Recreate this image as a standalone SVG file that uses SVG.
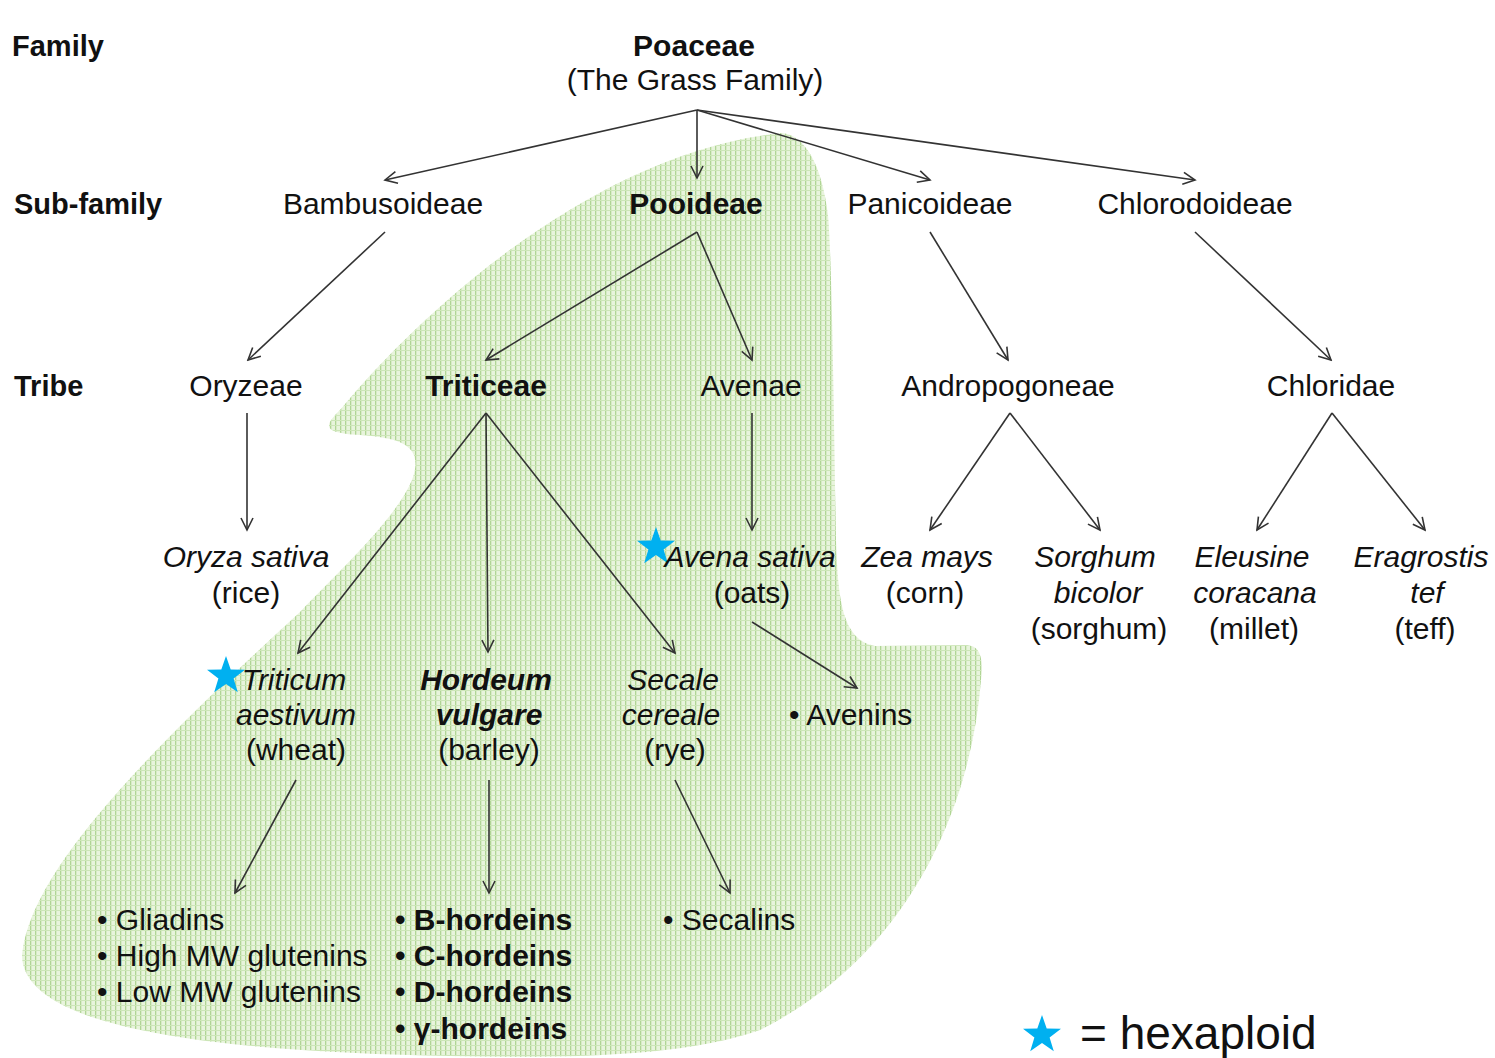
<svg xmlns="http://www.w3.org/2000/svg" width="1495" height="1058" viewBox="0 0 1495 1058">
<style>
text{font-family:"Liberation Sans",Arial,sans-serif;font-size:30px;fill:#111;}
.c{text-anchor:middle;}
.b{font-weight:bold;}
.i{font-style:italic;}
.conn line{stroke:#333333;stroke-width:1.6;fill:none;marker-end:url(#ah);}
.star{fill:#00b0f0;}
</style>
<defs>
<marker id="ah" viewBox="-14 -8 16 16" markerWidth="16" markerHeight="16" refX="0" refY="0" orient="auto" markerUnits="userSpaceOnUse">
<path d="M-12,-6 L0,0 L-12,6" fill="none" stroke="#333333" stroke-width="1.6"/>
</marker>
<pattern id="grid" width="5" height="5" patternUnits="userSpaceOnUse">
<rect width="5" height="5" fill="#e8f4dc"/>
<rect x="0" y="0" width="1.3" height="5" fill="#b0d595"/>
<rect x="0" y="0" width="5" height="1" fill="#cde6b8"/>
</pattern>
<polygon id="star" points="0,-20 4.7,-6.5 19,-6.2 7.6,2.5 11.8,16.2 0,8 -11.8,16.2 -7.6,2.5 -19,-6.2 -4.7,-6.5"/>
</defs>
<rect width="1495" height="1058" fill="#ffffff"/>
<g id="pooideae-region">
<path fill="url(#grid)" d="M782,133 C805,135 822,165 828,215 C832,260 834,420 836,540 C838,600 842,640 875,646 L965,645 C982,645 983,660 981,680 C970,820 900,960 760,1030 C680,1058 560,1058 450,1056 C250,1052 22,1035 22,955 C30,870 150,750 300,612 C340,570 395,520 412,480 C425,445 400,438 360,435 C320,433 325,425 340,410 C440,290 610,150 782,133 Z"/>
</g>
<g id="row-labels">
<text class="b" x="12" y="56" style="font-size:29px">Family</text>
<text class="b" x="14" y="214" style="font-size:29px">Sub-family</text>
<text class="b" x="14" y="396" style="font-size:29px">Tribe</text>
</g>
<g class="conn" id="connectors">
<line x1="697" y1="110" x2="385" y2="180"/>
<line x1="697" y1="110" x2="697" y2="178"/>
<line x1="697" y1="110" x2="930" y2="180"/>
<line x1="697" y1="110" x2="1195" y2="180"/>
<line x1="385" y1="232" x2="248" y2="360"/>
<line x1="697" y1="232" x2="486" y2="360"/>
<line x1="697" y1="232" x2="752" y2="360"/>
<line x1="930" y1="232" x2="1008" y2="360"/>
<line x1="1195" y1="232" x2="1331" y2="360"/>
<line x1="247" y1="413" x2="247" y2="530"/>
<line x1="486" y1="413" x2="298" y2="653"/>
<line x1="486" y1="413" x2="488" y2="652"/>
<line x1="486" y1="413" x2="675" y2="653"/>
<line x1="752" y1="413" x2="752" y2="530"/>
<line x1="1010" y1="413" x2="930" y2="530"/>
<line x1="1010" y1="413" x2="1100" y2="530"/>
<line x1="1332" y1="413" x2="1257" y2="530"/>
<line x1="1332" y1="413" x2="1425" y2="530"/>
<line x1="752" y1="622" x2="857" y2="688"/>
<line x1="296" y1="780" x2="235" y2="893"/>
<line x1="489" y1="780" x2="489" y2="893"/>
<line x1="675" y1="780" x2="730" y2="893"/>
</g>
<g id="poaceae"><text class="c b" x="694" y="56">Poaceae</text><text class="c" x="695" y="90">(The Grass Family)</text></g>
<g id="bambusoideae"><text class="c" x="383" y="214">Bambusoideae</text></g>
<g id="pooideae"><text class="c b" x="696" y="214">Pooideae</text></g>
<g id="panicoideae"><text class="c" x="930" y="214">Panicoideae</text></g>
<g id="chlorodoideae"><text class="c" x="1195" y="214">Chlorodoideae</text></g>
<g id="oryzeae"><text class="c" x="246" y="396">Oryzeae</text></g>
<g id="triticeae"><text class="c b" x="486" y="396">Triticeae</text></g>
<g id="avenae"><text class="c" x="751" y="396">Avenae</text></g>
<g id="andropogoneae"><text class="c" x="1008" y="396">Andropogoneae</text></g>
<g id="chloridae"><text class="c" x="1331" y="396">Chloridae</text></g>
<g id="oryza"><text class="c i" x="246" y="567">Oryza sativa</text><text class="c" x="246" y="603">(rice)</text></g>
<g id="avena"><use href="#star" class="star" x="656" y="547"/><text class="c i" x="750" y="567">Avena sativa</text><text class="c" x="752" y="603">(oats)</text></g>
<g id="zea"><text class="c i" x="927" y="567">Zea mays</text><text class="c" x="925" y="603">(corn)</text></g>
<g id="sorghum"><text class="c i" x="1095" y="567">Sorghum</text><text class="c i" x="1098" y="603">bicolor</text><text class="c" x="1099" y="639">(sorghum)</text></g>
<g id="eleusine"><text class="c i" x="1252" y="567">Eleusine</text><text class="c i" x="1255" y="603">coracana</text><text class="c" x="1254" y="639">(millet)</text></g>
<g id="eragrostis"><text class="c i" x="1421" y="567">Eragrostis</text><text class="c i" x="1427" y="603">tef</text><text class="c" x="1425" y="639">(teff)</text></g>
<g id="triticum"><use href="#star" class="star" x="226" y="676"/><text class="c i" x="294" y="690">Triticum</text><text class="c i" x="296" y="725">aestivum</text><text class="c" x="296" y="760">(wheat)</text></g>
<g id="hordeum"><text class="c b i" x="486" y="690">Hordeum</text><text class="c b i" x="489" y="725">vulgare</text><text class="c" x="489" y="760">(barley)</text></g>
<g id="secale"><text class="c i" x="673" y="690">Secale</text><text class="c i" x="671" y="725">cereale</text><text class="c" x="675" y="760">(rye)</text></g>
<g id="avenins"><text x="789" y="725">• Avenins</text></g>
<g id="wheat-proteins"><text x="97" y="930">• Gliadins</text><text x="97" y="966">• High MW glutenins</text><text x="97" y="1002">• Low MW glutenins</text></g>
<g id="hordeins"><text class="b" x="395" y="930">• B-hordeins</text><text class="b" x="395" y="966">• C-hordeins</text><text class="b" x="395" y="1002">• D-hordeins</text><text class="b" x="395" y="1039">• γ-hordeins</text></g>
<g id="secalins"><text x="663" y="930">• Secalins</text></g>
<g id="legend"><use href="#star" class="star" x="1042" y="1035"/><text x="1080" y="1049" style="font-size:46px">= hexaploid</text></g>
</svg>
